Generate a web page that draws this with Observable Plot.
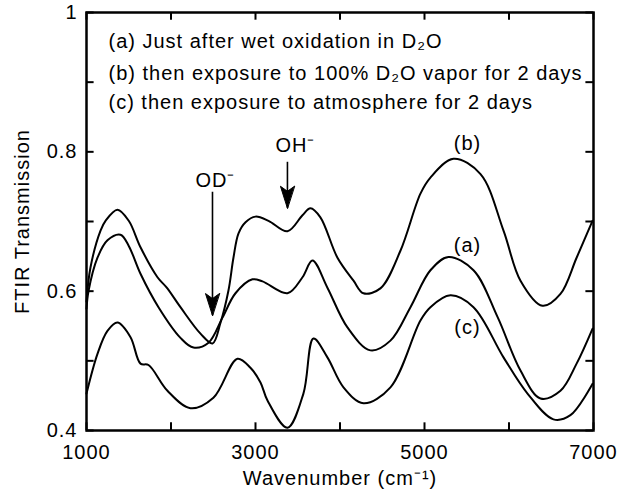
<!DOCTYPE html>
<html>
<head>
<meta charset="utf-8">
<script src="https://cdn.jsdelivr.net/npm/d3@7"></script>
<script src="https://cdn.jsdelivr.net/npm/@observablehq/plot@0.6"></script>
<style>
  html, body { margin: 0; padding: 0; background: white; }
</style>
</head>
<body>
<div id="chart"></div>
<script>
// ---- data ----
const waveA = [1000,1024,1130,1248,1402,1500,1639,1852,2112,2266,2444,2609,2763,2964,3083,3378,3556,3674,3851,4088,4360,4597,4834,5070,5283,5580,5864,6136,6373,6609,6800,6988];
const transA = [0.575,0.60,0.648,0.673,0.681,0.665,0.625,0.577,0.533,0.519,0.526,0.562,0.597,0.617,0.614,0.597,0.620,0.644,0.605,0.548,0.515,0.529,0.577,0.630,0.649,0.630,0.563,0.486,0.446,0.457,0.496,0.546];

const waveB = [1000,1047,1166,1225,1367,1500,1639,1840,1950,2112,2349,2491,2584,2680,2739,2799,2882,3000,3154,3378,3556,3650,3768,3970,4160,4277,4478,4715,4952,5070,5343,5663,5935,6136,6396,6609,6800,6988];
const transB = [0.585,0.634,0.687,0.701,0.717,0.701,0.663,0.620,0.605,0.577,0.539,0.525,0.554,0.601,0.648,0.683,0.699,0.707,0.701,0.686,0.709,0.719,0.706,0.648,0.615,0.597,0.604,0.658,0.740,0.763,0.790,0.768,0.687,0.615,0.579,0.596,0.648,0.701];

const waveC = [1000,1130,1248,1367,1521,1639,1734,1958,2230,2502,2786,2940,3059,3142,3378,3567,3686,3851,4041,4277,4597,4952,5070,5307,5580,5935,6219,6526,6727,6988];
const transC = [0.453,0.51,0.543,0.555,0.534,0.496,0.494,0.457,0.432,0.447,0.503,0.490,0.469,0.443,0.404,0.453,0.532,0.505,0.462,0.439,0.462,0.558,0.577,0.594,0.577,0.505,0.453,0.416,0.422,0.467];

const xTicks = [1000,2000,3000,4000,5000,6000,7000];
const xTickLabels = [1000,3000,5000,7000];
const yTicks = [0.4,0.5,0.6,0.7,0.8,0.9,1.0];
const yTickLabels = [0.4,0.6,0.8,1.0];

const legendLines = [
  "(a) Just after wet oxidation in D\u2082O",
  "(b) then exposure to 100% D\u2082O vapor for 2 days",
  "(c) then exposure to atmosphere for 2 days"
];
const legendY = [0.958, 0.913, 0.870];
const curveLabels = ["(b)", "(a)", "(c)"];
const curveLabelX = [5509, 5509, 5509];
const curveLabelY = [0.812, 0.666, 0.548];

const arrowNames = ["OD\u207B", "OH\u207B"];
const arrowX = [2491, 3378];
const arrowTop = [0.742, 0.785];
const arrowTip = [0.565, 0.719];
const arrowLabelX = [2526, 3473];
const arrowLabelY = [0.759, 0.809];

// ---- tables built from the arrays ----
const toRows = (w, t) => w.map((x, i) => ({x, y: t[i]}));
const rowsA = toRows(waveA, transA);
const rowsB = toRows(waveB, transB);
const rowsC = toRows(waveC, transC);
const legendRows = legendLines.map((t, i) => ({t, y: legendY[i]}));
const labelRows = curveLabels.map((t, i) => ({t, x: curveLabelX[i], y: curveLabelY[i]}));
const arrowRows = arrowNames.map((t, i) => ({t, x: arrowX[i], top: arrowTop[i], tip: arrowTip[i], lx: arrowLabelX[i], ly: arrowLabelY[i]}));

const font = "'Liberation Sans', Arial, Helvetica, sans-serif";
const headShape = {
  draw(context, l) {
    context.moveTo(0, 0);
    context.lineTo(-7, -l);
    context.lineTo(0, -l + 5);
    context.lineTo(7, -l);
    context.closePath();
  }
};

const tickLenX = 90;   // data units (~7px)
const tickLenY = 0.011;

const chart = Plot.plot({
  width: 627,
  height: 492,
  marginLeft: 86,
  marginRight: 34,
  marginTop: 12,
  marginBottom: 62,
  style: {fontFamily: font, fontSize: "20px", letterSpacing: "1px", background: "white", color: "black", overflow: "visible"},
  x: {domain: [1000, 7000]},
  y: {domain: [0.4, 1.0]},
  marks: [
    // inward ticks on all four sides
    Plot.ruleX(xTicks, {x: d => d, y1: 0.4, y2: 0.4 + tickLenY, strokeWidth: 2}),
    Plot.ruleX(xTicks, {x: d => d, y1: 1.0, y2: 1.0 - tickLenY, strokeWidth: 2}),
    Plot.ruleY(yTicks, {y: d => d, x1: 1000, x2: 1000 + tickLenX, strokeWidth: 2}),
    Plot.ruleY(yTicks, {y: d => d, x1: 7000, x2: 7000 - tickLenX, strokeWidth: 2}),
    Plot.axisX({ticks: xTickLabels, tickSize: 0, tickPadding: 14, fontSize: 20, tickFormat: d3.format("d"), label: "Wavenumber (cm\u207B\u00B9)", labelAnchor: "center", labelArrow: "none", labelOffset: 54}),
    Plot.axisY({ticks: yTickLabels, tickSize: 0, tickPadding: 9, fontSize: 20, tickFormat: d => d === 1 ? "1" : d3.format(".1f")(d), label: "FTIR Transmission", labelAnchor: "center", labelArrow: "none", labelOffset: 72}),
    Plot.frame({strokeWidth: 2.5}),
    Plot.line(rowsA, {x: "x", y: "y", curve: "catmull-rom", strokeWidth: 2}),
    Plot.line(rowsB, {x: "x", y: "y", curve: "catmull-rom", strokeWidth: 2}),
    Plot.line(rowsC, {x: "x", y: "y", curve: "catmull-rom", strokeWidth: 2}),
    Plot.text(legendRows, {x: 1260, y: "y", text: "t", textAnchor: "start", lineAnchor: "middle", fontSize: 20}),
    Plot.text(labelRows, {x: "x", y: "y", text: "t", textAnchor: "middle", lineAnchor: "middle", fontSize: 20}),
    Plot.text(arrowRows, {x: "lx", y: "ly", text: "t", textAnchor: "middle", lineAnchor: "middle", fontSize: 20}),
    Plot.ruleX(arrowRows, {x: "x", y1: "top", y2: "tip", strokeWidth: 1.6}),
    Plot.vector(arrowRows, {x: "x", y: "tip", length: 22, rotate: 0, anchor: "start", shape: headShape, fill: "black", stroke: "black", strokeWidth: 1})
  ]
});
document.getElementById("chart").appendChild(chart);
</script>
</body>
</html>
